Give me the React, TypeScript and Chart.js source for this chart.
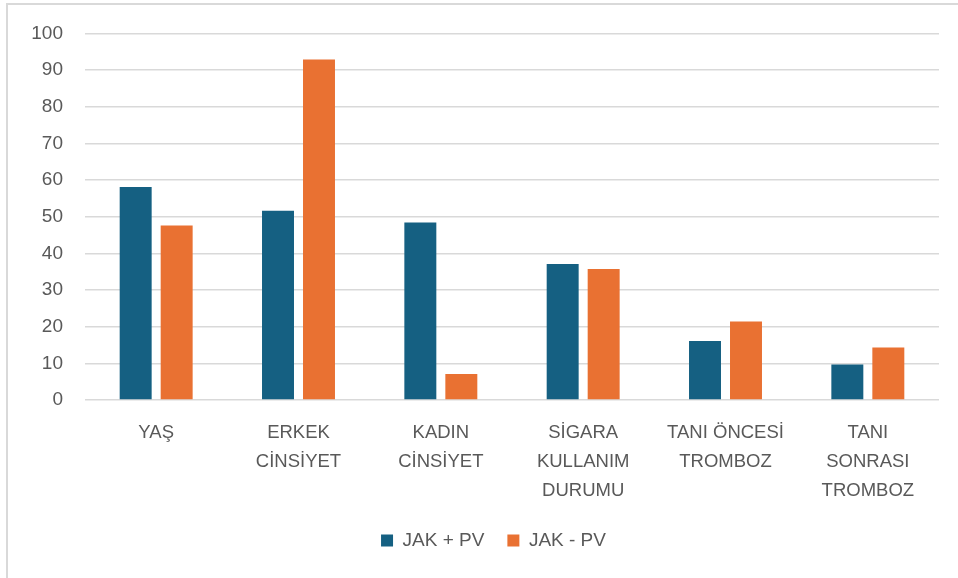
import React, { useEffect, useRef } from "react";
import { Chart, registerables } from "chart.js";

Chart.register(...registerables);

// Category labels, split into the lines they wrap to under the axis
const categories: string[][] = [
  ["YAŞ"],
  ["ERKEK", "CİNSİYET"],
  ["KADIN", "CİNSİYET"],
  ["SİGARA", "KULLANIM", "DURUMU"],
  ["TANI ÖNCESİ", "TROMBOZ"],
  ["TANI", "SONRASI", "TROMBOZ"],
];

const seriesNames = ["JAK + PV", "JAK - PV"];
const jakPositive = [58.1, 51.6, 48.4, 37.1, 16.1, 9.7];
const jakNegative = [47.6, 92.9, 7.1, 35.7, 21.4, 14.3];

const yMin = 0;
const yMax = 100;
const yStep = 10;

const BLUE = "#156082";
const ORANGE = "#E97132";
const TEXT = "#595959";
const GRID = "#D9D9D9";
const FONT = "'Liberation Sans', Arial, sans-serif";

// Nudges the legend row horizontally after layout
const legendShift = {
  id: "legendShift",
  afterLayout(chart: any) {
    const lg = chart.legend;
    if (lg) {
      lg.left += 24;
      lg.right += 24;
    }
  },
};

export default function App() {
  const canvasRef = useRef<HTMLCanvasElement | null>(null);

  useEffect(() => {
    if (!canvasRef.current) return;
    const chart = new Chart(canvasRef.current, {
      type: "bar",
      data: {
        labels: categories,
        datasets: [
          {
            label: seriesNames[0],
            data: jakPositive,
            backgroundColor: BLUE,
            categoryPercentage: 0.576,
            barPercentage: 0.78,
          },
          {
            label: seriesNames[1],
            data: jakNegative,
            backgroundColor: ORANGE,
            categoryPercentage: 0.576,
            barPercentage: 0.78,
          },
        ],
      },
      options: {
        animation: false,
        responsive: false,
        maintainAspectRatio: false,
        layout: { padding: { left: 0, right: 19, top: 33, bottom: 18 } },
        plugins: {
          tooltip: { enabled: false },
          legend: {
            position: "bottom",
            labels: {
              color: TEXT,
              font: { family: FONT, size: 19 },
              boxWidth: 12,
              boxHeight: 12,
              padding: 23,
            },
          },
        },
        scales: {
          x: {
            grid: { display: false, drawTicks: false },
            border: { display: false },
            ticks: {
              color: TEXT,
              font: { family: FONT, size: 18.5, lineHeight: 1.57 },
              padding: 18,
              maxRotation: 0,
              autoSkip: false,
            },
            afterFit: (scale: any) => {
              scale.height = 108;
            },
          },
          y: {
            min: yMin,
            max: yMax,
            grid: { color: GRID, lineWidth: 1.5, drawTicks: false },
            border: { display: false },
            ticks: {
              stepSize: yStep,
              color: TEXT,
              font: { family: FONT, size: 19 },
              padding: 22,
            },
            afterFit: (scale: any) => {
              scale.width = 85;
            },
          },
        },
      },
      plugins: [legendShift],
    });
    return () => chart.destroy();
  }, []);

  return (
    <div
      style={{
        position: "absolute",
        left: 0,
        top: 0,
        width: 958,
        height: 578,
        background: "#fff",
        overflow: "hidden",
      }}
    >
      <div
        style={{
          position: "absolute",
          left: 6,
          top: 3,
          right: 0,
          bottom: 0,
          borderLeft: `2px solid ${GRID}`,
          borderTop: `2px solid ${GRID}`,
        }}
      />
      <canvas
        ref={canvasRef}
        width={958}
        height={578}
        style={{ position: "absolute", left: 0, top: 0 }}
      />
    </div>
  );
}
